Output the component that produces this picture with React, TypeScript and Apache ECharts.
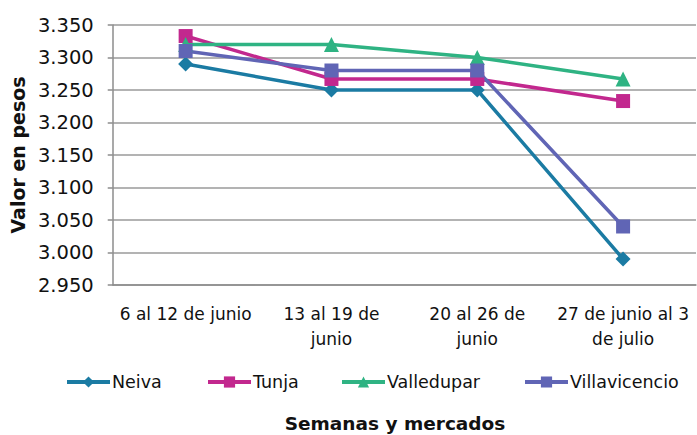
import React, { useEffect, useRef } from "react";
import * as echarts from "echarts";

const categories = ["6 al 12 de junio", "13 al 19 de\njunio", "20 al 26 de\njunio", "27 de junio al 3\nde julio"];
const seriesNames = ["Neiva", "Tunja", "Valledupar", "Villavicencio"];
const neiva = [3.29, 3.25, 3.25, 2.99];
const tunja = [3.333, 3.267, 3.267, 3.233];
const valledupar = [3.32, 3.32, 3.3, 3.267];
const villavicencio = [3.31, 3.28, 3.28, 3.04];
const yMin = 2.95;
const yMax = 3.35;
const yStep = 0.05;

const FONT = "DejaVu Sans";
const legendLeft = [65, 206, 340, 523];

export default function App() {
  const ref = useRef<HTMLDivElement>(null);
  useEffect(() => {
    if (!ref.current) return;
    const chart = echarts.init(ref.current, undefined, { renderer: "svg" });
    const mk = (name: string, data: number[], color: string, symbol: string, size: number) => ({
      name,
      type: "line",
      data,
      symbol,
      symbolSize: size,
      lineStyle: { color, width: 3.5 },
      itemStyle: { color },
      z: 2,
    });
    chart.setOption({
      animation: false,
      backgroundColor: "#ffffff",
      textStyle: { fontFamily: FONT },
      grid: { left: 112, right: 1, top: 25, bottom: 150 },
      legend: seriesNames.map((n, i) => ({
        data: [n],
        left: legendLeft[i],
        top: 373,
        padding: 0,
        itemWidth: 43,
        itemHeight: 14,
        lineStyle: { width: 4 },
        textStyle: { fontFamily: FONT, fontSize: 17.5, color: "#111", padding: [0, 0, 0, -3] },
      })),
      xAxis: {
        type: "category",
        data: categories,
        boundaryGap: true,
        axisLine: { lineStyle: { color: "#8c8c8c", width: 1.5 } },
        axisTick: { show: false },
        axisLabel: { color: "#111", fontSize: 17, fontFamily: FONT, margin: 16, lineHeight: 25, interval: 0 },
      },
      yAxis: {
        type: "value",
        min: yMin,
        max: yMax,
        interval: yStep,
        name: "Valor en pesos",
        nameLocation: "middle",
        nameGap: 82,
        nameTextStyle: { fontFamily: FONT, fontWeight: "bold", fontSize: 19, color: "#111" },
        axisLine: { show: true, lineStyle: { color: "#8c8c8c", width: 1.5 } },
        axisTick: { show: true, length: 5, lineStyle: { color: "#8c8c8c", width: 1.5 } },
        splitLine: { lineStyle: { color: "#9a9a9a", width: 1.5 } },
        axisLabel: {
          color: "#111",
          fontSize: 19.5,
          fontFamily: FONT,
          margin: 19,
          formatter: (v: number) => v.toFixed(3),
        },
      },
      graphic: [
        {
          type: "text",
          x: 395,
          y: 423,
          style: {
            text: "Semanas y mercados",
            fontFamily: FONT,
            fontWeight: "bold",
            fontSize: 18.5,
            fill: "#111",
            align: "center",
            verticalAlign: "middle",
          },
        },
      ],
      series: [
        mk(seriesNames[0], neiva, "#1B7BA3", "diamond", 15),
        mk(seriesNames[1], tunja, "#C2288E", "rect", 14),
        mk(seriesNames[2], valledupar, "#2FB383", "triangle", 15),
        mk(seriesNames[3], villavicencio, "#6065B5", "rect", 14),
      ],
    });
    return () => chart.dispose();
  }, []);
  return <div ref={ref} style={{ width: 697, height: 435, position: "absolute", left: 0, top: 0 }} />;
}
